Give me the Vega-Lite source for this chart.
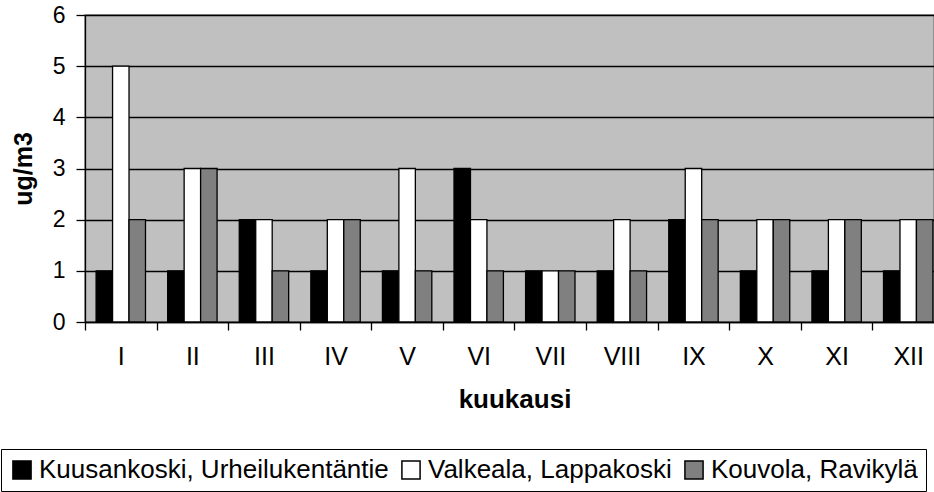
{
  "$schema": "https://vega.github.io/schema/vega-lite/v6.json",
  "autosize": {"type": "none"},
  "padding": {"left": 85, "top": 15, "right": 0, "bottom": 170},
  "width": 849,
  "height": 307,
  "background": "#ffffff",
  "config": {
    "font": "Liberation Sans",
    "view": {"fill": "#c0c0c0", "stroke": "#808080", "strokeWidth": 1.5}
  },
  "data": {
    "values": [
      {"kuukausi": "I", "asema": "Kuusankoski, Urheilukentäntie", "arvo": 1},
      {"kuukausi": "I", "asema": "Valkeala, Lappakoski", "arvo": 5},
      {"kuukausi": "I", "asema": "Kouvola, Ravikylä", "arvo": 2},
      {"kuukausi": "II", "asema": "Kuusankoski, Urheilukentäntie", "arvo": 1},
      {"kuukausi": "II", "asema": "Valkeala, Lappakoski", "arvo": 3},
      {"kuukausi": "II", "asema": "Kouvola, Ravikylä", "arvo": 3},
      {"kuukausi": "III", "asema": "Kuusankoski, Urheilukentäntie", "arvo": 2},
      {"kuukausi": "III", "asema": "Valkeala, Lappakoski", "arvo": 2},
      {"kuukausi": "III", "asema": "Kouvola, Ravikylä", "arvo": 1},
      {"kuukausi": "IV", "asema": "Kuusankoski, Urheilukentäntie", "arvo": 1},
      {"kuukausi": "IV", "asema": "Valkeala, Lappakoski", "arvo": 2},
      {"kuukausi": "IV", "asema": "Kouvola, Ravikylä", "arvo": 2},
      {"kuukausi": "V", "asema": "Kuusankoski, Urheilukentäntie", "arvo": 1},
      {"kuukausi": "V", "asema": "Valkeala, Lappakoski", "arvo": 3},
      {"kuukausi": "V", "asema": "Kouvola, Ravikylä", "arvo": 1},
      {"kuukausi": "VI", "asema": "Kuusankoski, Urheilukentäntie", "arvo": 3},
      {"kuukausi": "VI", "asema": "Valkeala, Lappakoski", "arvo": 2},
      {"kuukausi": "VI", "asema": "Kouvola, Ravikylä", "arvo": 1},
      {"kuukausi": "VII", "asema": "Kuusankoski, Urheilukentäntie", "arvo": 1},
      {"kuukausi": "VII", "asema": "Valkeala, Lappakoski", "arvo": 1},
      {"kuukausi": "VII", "asema": "Kouvola, Ravikylä", "arvo": 1},
      {"kuukausi": "VIII", "asema": "Kuusankoski, Urheilukentäntie", "arvo": 1},
      {"kuukausi": "VIII", "asema": "Valkeala, Lappakoski", "arvo": 2},
      {"kuukausi": "VIII", "asema": "Kouvola, Ravikylä", "arvo": 1},
      {"kuukausi": "IX", "asema": "Kuusankoski, Urheilukentäntie", "arvo": 2},
      {"kuukausi": "IX", "asema": "Valkeala, Lappakoski", "arvo": 3},
      {"kuukausi": "IX", "asema": "Kouvola, Ravikylä", "arvo": 2},
      {"kuukausi": "X", "asema": "Kuusankoski, Urheilukentäntie", "arvo": 1},
      {"kuukausi": "X", "asema": "Valkeala, Lappakoski", "arvo": 2},
      {"kuukausi": "X", "asema": "Kouvola, Ravikylä", "arvo": 2},
      {"kuukausi": "XI", "asema": "Kuusankoski, Urheilukentäntie", "arvo": 1},
      {"kuukausi": "XI", "asema": "Valkeala, Lappakoski", "arvo": 2},
      {"kuukausi": "XI", "asema": "Kouvola, Ravikylä", "arvo": 2},
      {"kuukausi": "XII", "asema": "Kuusankoski, Urheilukentäntie", "arvo": 1},
      {"kuukausi": "XII", "asema": "Valkeala, Lappakoski", "arvo": 2},
      {"kuukausi": "XII", "asema": "Kouvola, Ravikylä", "arvo": 2}
    ]
  },
  "mark": {"type": "bar", "stroke": "#000000", "strokeWidth": 1.3},
  "encoding": {
    "x": {
      "field": "kuukausi",
      "type": "nominal",
      "scale": {
        "domain": ["I", "II", "III", "IV", "V", "VI", "VII", "VIII", "IX", "X", "XI", "XII"],
        "range": [0, 859],
        "paddingInner": 0.31,
        "paddingOuter": 0.155
      },
      "axis": {
        "title": "kuukausi",
        "titleFontSize": 26,
        "titleFontWeight": "bold",
        "titleColor": "#000000",
        "titlePadding": 17,
        "labelAngle": 0,
        "labelFontSize": 25,
        "labelColor": "#000000",
        "labelPadding": 14,
        "labelOffset": 35.8,
        "domainColor": "#000000",
        "domainWidth": 1.3,
        "tickColor": "#000000",
        "tickWidth": 1.3,
        "tickSize": 8,
        "tickOffset": -35.8,
        "grid": false
      }
    },
    "xOffset": {
      "field": "asema",
      "type": "nominal",
      "sort": ["Kuusankoski, Urheilukentäntie", "Valkeala, Lappakoski", "Kouvola, Ravikylä"],
      "scale": {"paddingInner": 0, "paddingOuter": 0}
    },
    "y": {
      "field": "arvo",
      "type": "quantitative",
      "scale": {"domain": [0, 6], "nice": false},
      "axis": {
        "title": "ug/m3",
        "titleFontSize": 25,
        "titleFontWeight": "bold",
        "titleColor": "#000000",
        "titlePadding": 16,
        "values": [0, 1, 2, 3, 4, 5, 6],
        "labelFontSize": 23,
        "labelColor": "#000000",
        "labelPadding": 11,
        "domainColor": "#000000",
        "domainWidth": 1.3,
        "tickColor": "#000000",
        "tickWidth": 1.3,
        "tickSize": 9,
        "grid": true,
        "gridColor": "#000000",
        "gridWidth": 1.3,
        "gridOpacity": 1
      }
    },
    "color": {
      "field": "asema",
      "type": "nominal",
      "sort": ["Kuusankoski, Urheilukentäntie", "Valkeala, Lappakoski", "Kouvola, Ravikylä"],
      "scale": {
        "domain": ["Kuusankoski, Urheilukentäntie", "Valkeala, Lappakoski", "Kouvola, Ravikylä"],
        "range": ["#000000", "#ffffff", "#808080"]
      },
      "legend": {
        "orient": "none",
        "legendX": -84,
        "legendY": 434,
        "direction": "horizontal",
        "title": null,
        "symbolType": "square",
        "symbolSize": 330,
        "symbolStrokeColor": "#000000",
        "symbolStrokeWidth": 1.5,
        "symbolOpacity": 1,
        "labelFontSize": 26,
        "labelLimit": 600,
        "labelColor": "#000000",
        "labelOffset": 4,
        "columnPadding": 9,
        "padding": 8,
        "strokeColor": "#000000",
        "fillColor": "#ffffff"
      }
    }
  }
}
